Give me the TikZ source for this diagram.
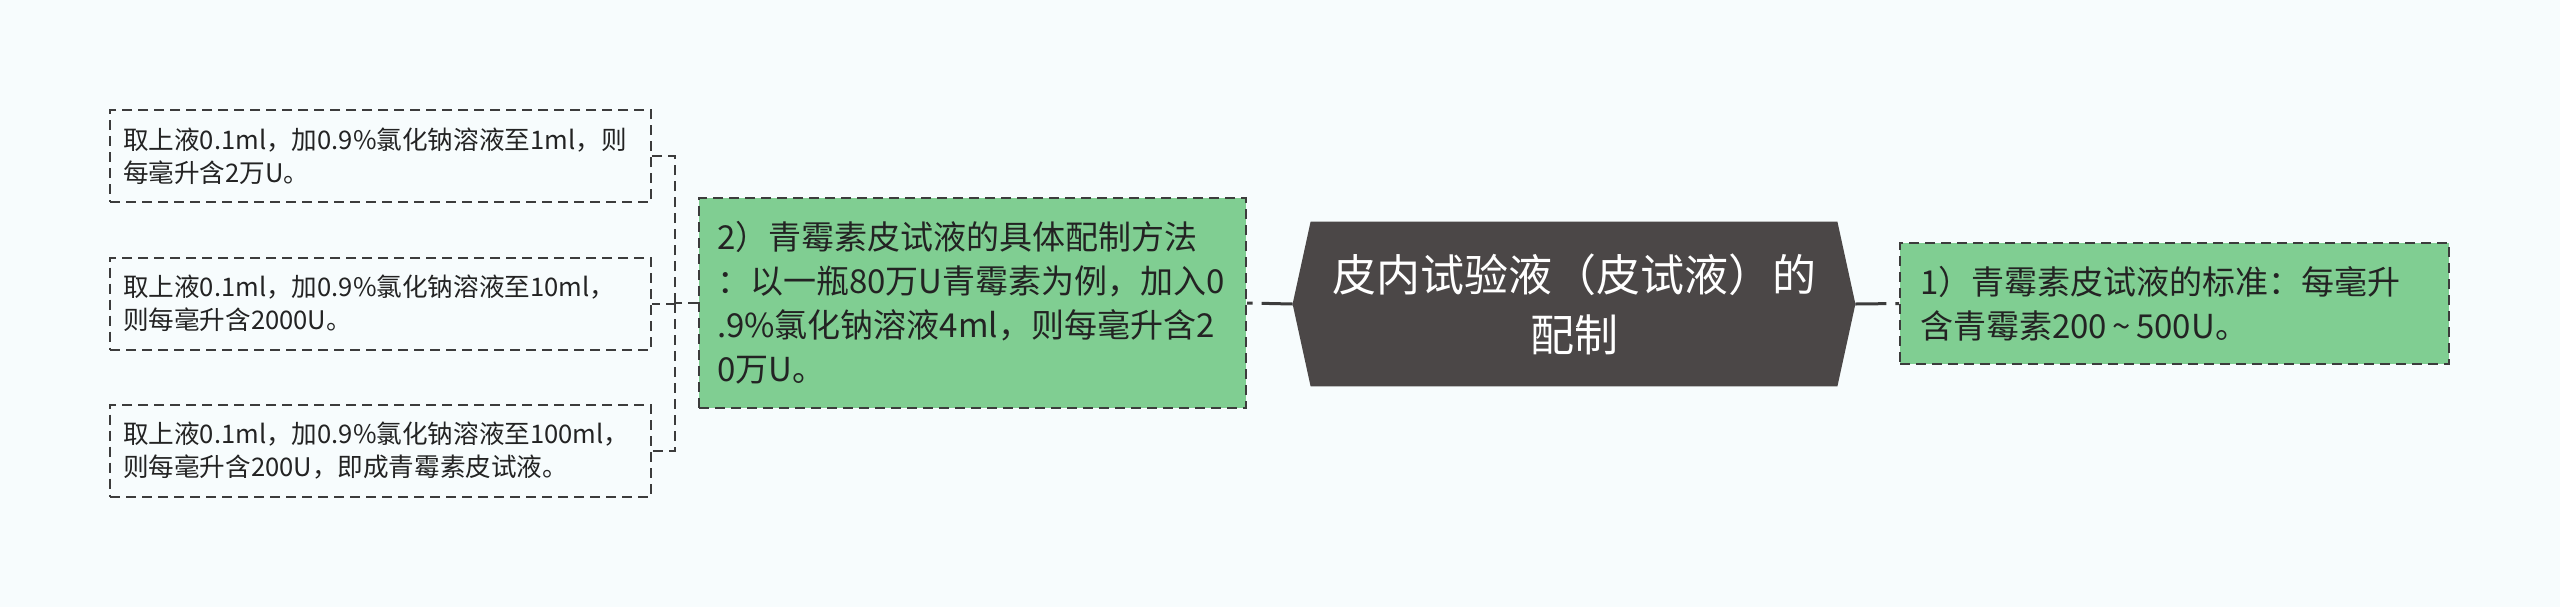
\documentclass[tikz,border=0pt]{standalone}
\usepackage{fontspec}
\setmainfont{Noto Sans CJK SC}
\definecolor{bgc}{RGB}{247,252,253}
\definecolor{greenc}{RGB}{128,206,146}
\definecolor{hexc}{RGB}{75,71,71}
\definecolor{linec}{RGB}{60,60,60}
\definecolor{txtc}{RGB}{35,35,35}
\pgfdeclarelayer{background}
\pgfdeclarelayer{canvas}
\pgfsetlayers{canvas,background,main}
\begin{document}
\begin{tikzpicture}[x=0.5pt,y=-0.5pt,
  leafbox/.style={draw=linec, line width=1pt, dash pattern=on 5pt off 3pt,
    text=txtc, font=\fontsize{12.8pt}{16.5pt}\selectfont,
    inner xsep=6.5pt, inner ysep=0pt, text width=257.5pt, align=left,
    minimum height=46pt, anchor=center},
  greenbox/.style={draw=linec, fill=greenc, line width=1pt, dash pattern=on 5pt off 3pt,
    text=txtc, font=\fontsize{16.5pt}{22pt}\selectfont,
    inner ysep=0pt, align=left, anchor=center},
  hexbox/.style={text=white, font=\fontsize{22pt}{30pt}\selectfont,
    align=center, minimum width=281pt, minimum height=82pt, inner sep=0pt},
  bracket/.style={draw=linec, line width=1pt, dash pattern=on 5pt off 3pt},
  mainconn/.style={draw=linec, line width=1.5pt, dash pattern=on 15.5pt off 4.5pt on 10pt off 3pt}
]
\begin{pgfonlayer}{canvas}
\fill[bgc] (0,0) rectangle (2560,607);
\end{pgfonlayer}
\useasboundingbox (0,0) rectangle (2560,607);

\node[leafbox] (l1) at (380.5,156) {取上液0.1ml，加0.9\%氯化钠溶液至1ml，则\\每毫升含2万U。};
\node[leafbox] (l2) at (380.5,303.5) {取上液0.1ml，加0.9\%氯化钠溶液至10ml，\\则每毫升含2000U。};
\node[leafbox] (l3) at (380.5,450.5) {取上液0.1ml，加0.9\%氯化钠溶液至100ml，\\则每毫升含200U，即成青霉素皮试液。};

\node[greenbox, inner xsep=9pt, text width=255.5pt, minimum height=105pt] (g2) at (972.5,303)
  {2）青霉素皮试液的具体配制方法\\：以一瓶80万U青霉素为例，加入0\\.9\%氯化钠溶液4ml，则每毫升含2\\0万U。};

\node[hexbox] (hex) at (1574,304) {皮内试验液（皮试液）的\\配制};
\begin{pgfonlayer}{background}
\fill[hexc] (hex.west) -- ([xshift=9pt]hex.north west) -- ([xshift=-9pt]hex.north east)
  -- (hex.east) -- ([xshift=-9pt]hex.south east) -- ([xshift=9pt]hex.south west) -- cycle;
\end{pgfonlayer}

\node[greenbox, inner xsep=10pt, text width=254.5pt, minimum height=60.5pt] (g1) at (2174.5,303.5)
  {1）青霉素皮试液的标准：每毫升\\含青霉素200\,\textasciitilde\,500U。};

\coordinate (j) at (675,303);
\draw[bracket] (g2.west) -- (j);
\draw[bracket] (j) |- (l1.east);
\draw[bracket] (j) |- (l2.east);
\draw[bracket] (j) |- (l3.east);

\draw[mainconn] (hex.west) -- (g2.east);
\draw[mainconn] (hex.east) -- (g1.west);
\end{tikzpicture}
\end{document}
